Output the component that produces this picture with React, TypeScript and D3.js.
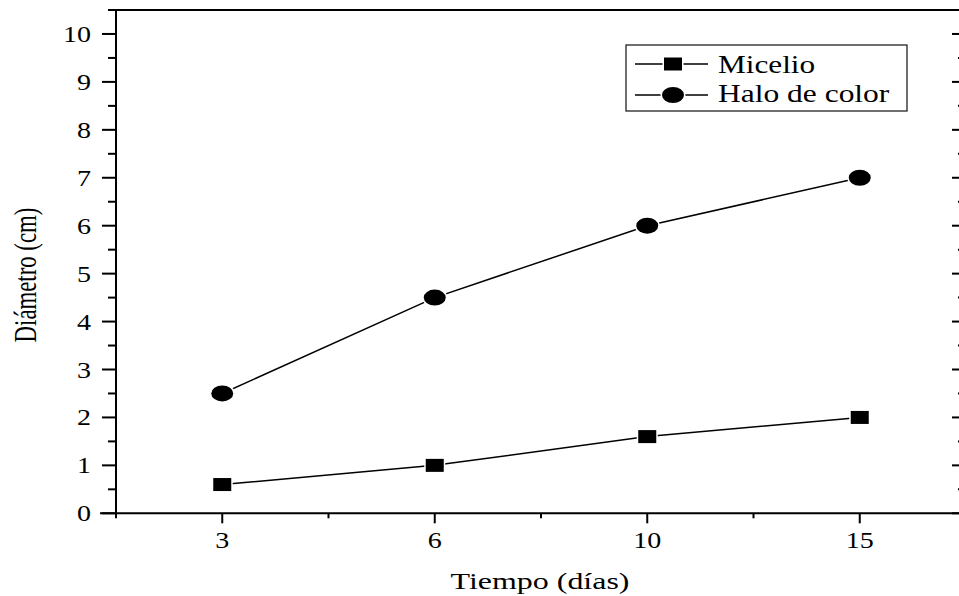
import React from 'react';
import * as d3 from 'd3';

const days = ['3', '6', '10', '15'];
const micelio = [0.6, 1.0, 1.6, 2.0];
const halo = [2.5, 4.5, 6.0, 7.0];
const yTicks = [0, 1, 2, 3, 4, 5, 6, 7, 8, 9, 10];
const yMinor = [0.5, 1.5, 2.5, 3.5, 4.5, 5.5, 6.5, 7.5, 8.5, 9.5];

const W = 959;
const H = 596;
const LEFT = 116;
const RIGHT = 966;
const TOP = 10;
const BOTTOM = 513.3;
const FONT = "'Liberation Serif', 'Times New Roman', serif";

const App = () => {
  const x = d3.scalePoint<string>().domain(days).range([LEFT, RIGHT]).padding(0.5);
  const y = d3.scaleLinear().domain([0, 10.5]).range([BOTTOM, TOP]);
  const step = x.step();
  const xMinor = [LEFT, ...days.slice(0, -1).map(d => (x(d) as number) + step / 2), (x('15') as number) + step / 2];

  const line = d3.line<number>()
    .x((d, i) => x(days[i]) as number)
    .y(d => y(d));

  const square = (cx: number, cy: number, key: string) => (
    <rect key={key} x={cx - 9} y={cy - 6.5} width={18} height={13} fill="#000" stroke="#fff" strokeWidth={3} paintOrder="stroke" />
  );
  const circle = (cx: number, cy: number, key: string) => (
    <ellipse key={key} cx={cx} cy={cy} rx={11} ry={8} fill="#000" stroke="#fff" strokeWidth={3} paintOrder="stroke" />
  );

  return (
    <svg width={W} height={H} style={{ position: 'absolute', left: 0, top: 0, background: '#fff' }}>
      {/* frame */}
      <g stroke="#000" strokeWidth={2} fill="none">
        <line x1={108} x2={W} y1={TOP} y2={TOP} />
        <line x1={LEFT} x2={LEFT} y1={TOP} y2={BOTTOM} />
        <line x1={100} x2={W} y1={BOTTOM} y2={BOTTOM} />
        <line x1={RIGHT} x2={RIGHT} y1={TOP} y2={BOTTOM} />
      </g>

      {/* y ticks */}
      <g stroke="#000" strokeWidth={2}>
        {yTicks.map(t => (
          <g key={'yt' + t}>
            <line x1={LEFT - 14} x2={LEFT} y1={y(t)} y2={y(t)} />
            <line x1={RIGHT - 14} x2={RIGHT} y1={y(t)} y2={y(t)} />
          </g>
        ))}
        {yMinor.map(t => (
          <g key={'ym' + t}>
            <line x1={LEFT - 8} x2={LEFT} y1={y(t)} y2={y(t)} />
            <line x1={RIGHT - 8} x2={RIGHT} y1={y(t)} y2={y(t)} />
          </g>
        ))}
        {days.map(d => (
          <line key={'xt' + d} x1={x(d) as number} x2={x(d) as number} y1={BOTTOM} y2={BOTTOM + 10} />
        ))}
        {xMinor.map((m, i) => (
          <line key={'xm' + i} x1={m} x2={m} y1={BOTTOM} y2={BOTTOM + 5} />
        ))}
      </g>

      {/* tick labels */}
      <g fontFamily={FONT} fontSize={23} fill="#000">
        {yTicks.map(t => (
          <text key={'yl' + t} transform={`translate(91,${y(t) + 8}) scale(1.22,1)`} textAnchor="end">{t}</text>
        ))}
        {days.map(d => (
          <text key={'xl' + d} transform={`translate(${x(d)},548) scale(1.22,1)`} textAnchor="middle">{d}</text>
        ))}
      </g>

      {/* axis titles */}
      <text fontFamily={FONT} fontSize={22.5} textAnchor="middle" transform="translate(540,589) scale(1.42,1)">Tiempo (días)</text>
      <text fontFamily={FONT} fontSize={22.8} textAnchor="middle" transform="translate(36,275) scale(1.35,1) rotate(-90)">Diámetro (cm)</text>

      {/* series */}
      <path d={line(micelio) ?? ''} fill="none" stroke="#000" strokeWidth={1.5} />
      <path d={line(halo) ?? ''} fill="none" stroke="#000" strokeWidth={1.5} />
      {micelio.map((v, i) => square(x(days[i]) as number, y(v), 'm' + i))}
      {halo.map((v, i) => circle(x(days[i]) as number, y(v), 'h' + i))}

      {/* legend */}
      <rect x={626} y={45} width={281} height={66} fill="#fff" stroke="#222" strokeWidth={1.3} />
      <g stroke="#000" strokeWidth={1.5}>
        <line x1={635} x2={708} y1={64} y2={64} />
        <line x1={635} x2={708} y1={95} y2={95} />
      </g>
      {square(673, 64, 'lm')}
      {circle(673, 95, 'lh')}
      <g fontFamily={FONT} fontSize={25} fill="#000">
        <text transform="translate(718,72.5) scale(1.25,1)">Micelio</text>
        <text transform="translate(718,102) scale(1.26,1)">Halo de color</text>
      </g>
    </svg>
  );
};

export default App;
